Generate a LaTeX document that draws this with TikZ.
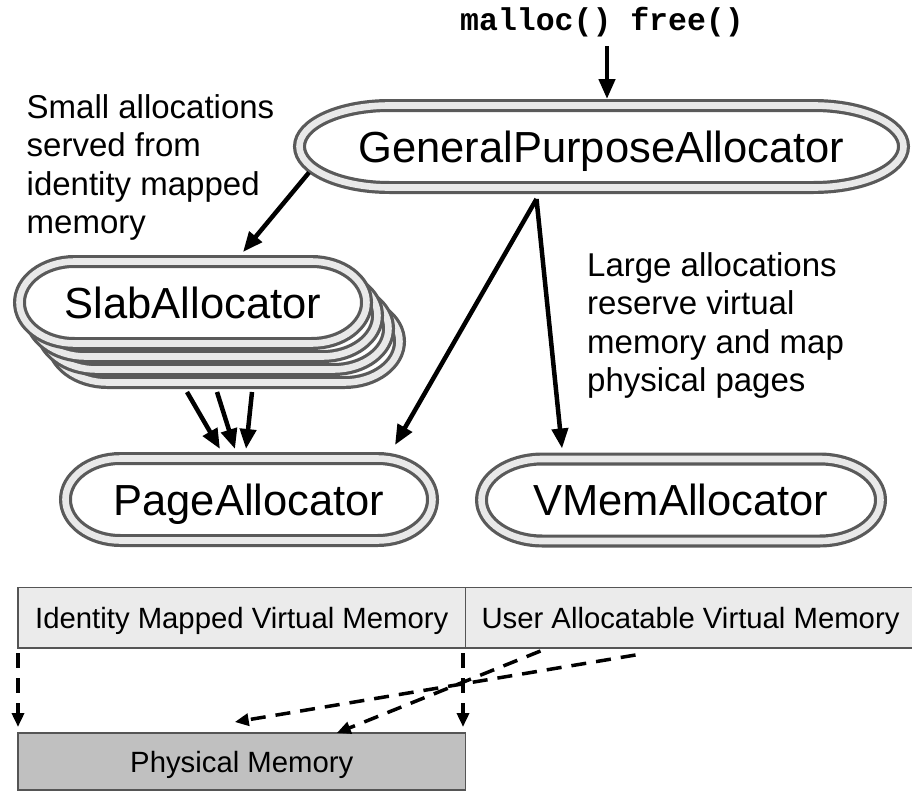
\documentclass[tikz,border=0pt]{standalone}
\usepackage{fontspec}
\setmainfont{Liberation Sans}
\setmonofont{Liberation Mono}
\usetikzlibrary{arrows.meta,positioning,backgrounds}
\definecolor{pillgray}{RGB}{90,90,90}
\definecolor{bandgray}{RGB}{233,233,233}
\definecolor{bargray}{RGB}{235,235,235}
\definecolor{physgray}{RGB}{192,192,192}
\definecolor{edgegray}{RGB}{85,85,85}

\tikzset{
  pillbox/.style={rectangle, inner sep=0pt, outer sep=0pt, minimum height=95pt,
    font=\fontsize{43.5}{50}\selectfont, text height=31pt, text depth=0pt},
  pillline/.style={draw=pillgray, line width=3.2pt, double=bandgray, double distance=6.6pt, fill=white},
  memblock/.style={draw=edgegray, line width=1.5pt, fill=bargray, inner sep=0pt, outer sep=0pt,
    minimum height=60.5pt, font=\fontsize{29.3}{35}\selectfont, text height=21pt, text depth=0pt},
  note/.style={align=left, anchor=north west, inner sep=0pt, font=\fontsize{33}{38.5}\selectfont},
  arr/.style={line width=4.5pt, -{Triangle[length=20pt,width=16pt]}},
  maparr/.style={line width=3.5pt, dash pattern=on 15pt off 10pt, -{Triangle[length=14pt,width=12pt]}}
}

% pill outline with elliptic ends round a node: #1 node, #2 x radius of the ends
\newcommand{\pillshape}[2]{%
  \draw[pillline] ([xshift=6.5pt+#2pt, yshift=-6.5pt]#1.north west) -- ([xshift=-6.5pt-#2pt, yshift=-6.5pt]#1.north east)
    arc[start angle=90, end angle=-90, x radius=#2pt, y radius=41pt]
    -- ([xshift=6.5pt+#2pt, yshift=6.5pt]#1.south west)
    arc[start angle=270, end angle=90, x radius=#2pt, y radius=41pt] -- cycle;}

\begin{document}
\begin{tikzpicture}[x=1pt, y=1pt]
    \useasboundingbox (0,0) rectangle (912,-792);

    % Allocators
    \node[pillbox, minimum width=617pt] (gpa) at (601.5,-146.5) {GeneralPurposeAllocator};
    \node[pillbox, minimum width=360pt] (slab) at (193,-302.5) {SlabAllocator};
    \foreach \i in {1,2,3}
        \node[pillbox, minimum width=360pt] (slab\i) at ([xshift=11pt*\i, yshift=-13pt*\i]slab.center) {};
    \node[pillbox, minimum width=380pt] (page) at (249,-499.5) {PageAllocator};
    \node[pillbox, minimum width=412pt] (vmem) at (681,-500) {VMemAllocator};

    \begin{pgfonlayer}{background}
        \foreach \i in {3,2,1} {\pillshape{slab\i}{55}}
        \pillshape{slab}{55}
        \pillshape{gpa}{90}
        \pillshape{page}{55}
        \pillshape{vmem}{61}
    \end{pgfonlayer}

    % Entry points and notes
    \node[inner sep=0pt, font=\fontsize{31.5}{36}\ttfamily\bfseries\selectfont] (calls) at (602,-22) {malloc() free()};
    \node[note] (smallnote) at (26.5,-94) {Small allocations\\served from\\identity mapped\\memory};
    \node[note] (largenote) at (587,-252) {Large allocations\\reserve virtual\\memory and map\\physical pages};

    % Memory regions
    \node[memblock, minimum width=447.5pt] (idmap) at (241.75,-617.75) {Identity Mapped Virtual Memory};
    \node[memblock, minimum width=450pt, right=0pt of idmap] (usermem) {User Allocatable Virtual Memory};
    \node[memblock, fill=physgray, minimum width=447.5pt, minimum height=57pt, below=85pt of idmap] (phys) {Physical Memory};

    % Calls between allocators
    \draw[arr, shorten <=9pt] ([xshift=5pt]calls.south) -- ([xshift=5pt]calls.south |- gpa.north);
    \draw[arr] ([xshift=16pt, yshift=-26pt]gpa.west) -- ([xshift=50pt, yshift=3pt]slab.north);
    \draw[arr] ([xshift=-65pt, yshift=-5pt]gpa.south) -- ([xshift=146pt, yshift=7pt]page.north);
    \draw[arr] ([xshift=-65pt, yshift=-5pt]gpa.south) -- ([xshift=-119pt, yshift=4pt]vmem.north);
    \draw[arr] ([xshift=-39pt, yshift=-3pt]slab3.south) -- ([xshift=-29pt, yshift=3pt]page.north);
    \draw[arr] ([xshift=-9pt, yshift=-3pt]slab3.south) -- ([xshift=-14pt, yshift=3pt]page.north);
    \draw[arr] ([xshift=26pt, yshift=-3pt]slab3.south) -- ([xshift=-3pt, yshift=3pt]page.north);

    % Mappings to physical memory
    \draw[maparr, shorten <=5pt, shorten >=6pt] (idmap.south west) -- (phys.north west);
    \draw[maparr, shorten <=5pt, shorten >=6pt] ([xshift=-2.5pt]idmap.south east) -- ([xshift=-2.5pt]phys.north east);
    \draw[maparr] ([xshift=-55pt, yshift=-7pt]usermem.south) -- ([xshift=-7pt, yshift=11pt]phys.north);
    \draw[maparr] ([xshift=-150pt, yshift=-3pt]usermem.south) -- ([xshift=95pt]phys.north);
\end{tikzpicture}
\end{document}
